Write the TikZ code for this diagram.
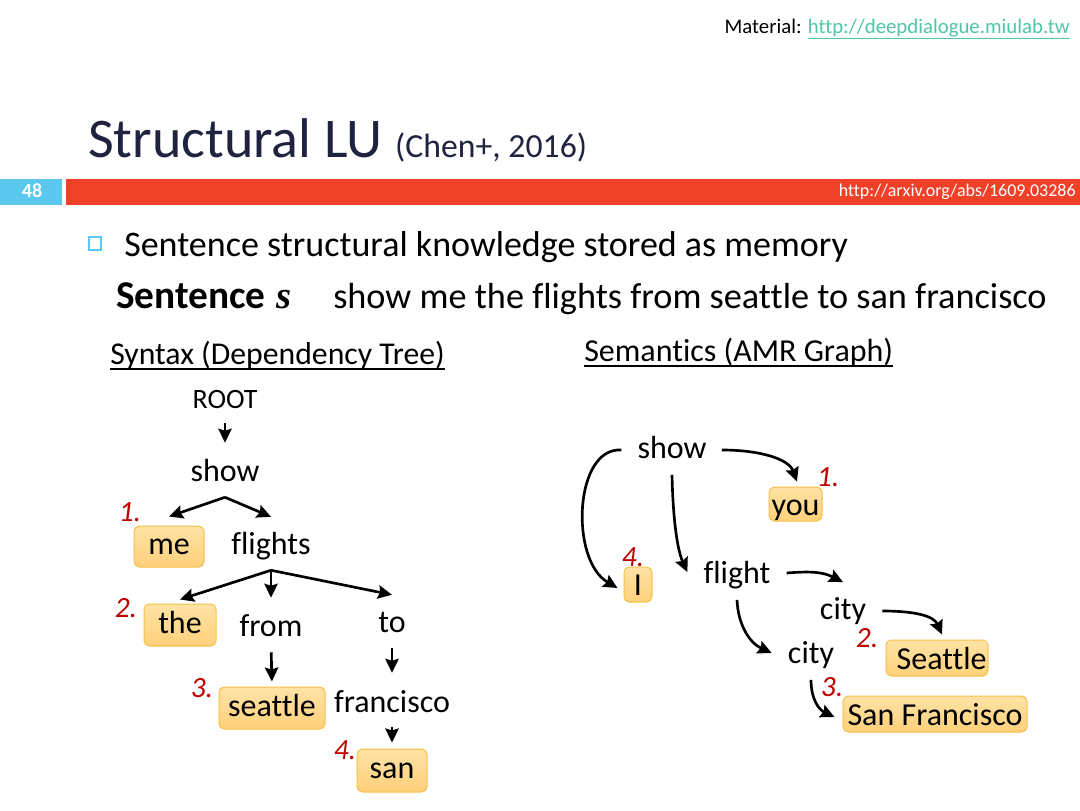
\documentclass[tikz,border=0pt]{standalone}
\usepackage{fontspec}
\setmainfont{Carlito}[Ligatures=NoCommon]
\newfontfamily\serifit{Liberation Serif}
\usetikzlibrary{arrows.meta}
\definecolor{navy}{HTML}{1F2340}
\definecolor{linkc}{HTML}{4FC6A8}
\definecolor{barblue}{HTML}{5BC8F0}
\definecolor{barred}{HTML}{F04128}
\definecolor{numred}{HTML}{C00000}
\definecolor{boxdraw}{HTML}{F5C047}
\definecolor{boxtop}{HTML}{FFE3A6}
\definecolor{boxbot}{HTML}{FFD07A}
\tikzset{
  word/.style={font=\fontsize{24}{28}\selectfont, inner sep=0pt, text height=17pt, text depth=5pt, anchor=base},
  wbox/.style={draw=boxdraw, top color=boxtop, bottom color=boxbot, rounded corners=4pt, line width=0.75pt, inner sep=0pt, font=\fontsize{24}{28}\selectfont, text height=17pt, text depth=5pt},
  abox/.style={wbox, text depth=0pt},
  num/.style={font=\itshape\fontsize{22}{26}\selectfont, text=numred, inner sep=0pt},
  arr/.style={line width=2pt, -{Stealth[length=10.5pt,width=10pt,inset=1.5pt]}},
  uline/.style={line width=1.5pt},
}
\begin{document}
\begin{tikzpicture}[x=0.75pt,y=-0.75pt]
\useasboundingbox (0,0) rectangle (1080,810);
\fill[white] (0,0) rectangle (1080,810);
% header
\node[anchor=base east, inner sep=0pt, font=\fontsize{15.6}{18}\selectfont] (material) at (1070,33) {Material: \textcolor{linkc}{\underline{http://deepdialogue.miulab.tw}}};
\node[anchor=base west, inner sep=0pt, text=navy, font=\fontsize{42}{48}\selectfont] (title) at (88,157) {Structural LU {\fontsize{25.3}{30}\selectfont (Chen+, 2016)}};
\fill[barblue] (0,179) rectangle (62,205);
\node[font=\bfseries\fontsize{15}{18}\selectfont, text=white, inner sep=0pt] (pagenum) at (32,191) {48};
\fill[barred] (66,179) rectangle (1080,205);
\node[anchor=east, font=\fontsize{13.5}{16}\selectfont, text=white, inner sep=0pt] (arxiv) at (1076,192) {http://arxiv.org/abs/1609.03286};
% bullet
\draw[barblue, line width=1.3pt] (89,237) rectangle (101,250);
\node[anchor=base west, inner sep=0pt, font=\fontsize{27}{32}\selectfont] (bullet) at (124,256) {Sentence structural knowledge stored as memory};
\node[anchor=base west, inner sep=0pt, font=\bfseries\fontsize{29.5}{34}\selectfont] (sentlab) at (116,308) {Sentence};
\node[anchor=base west, inner sep=0pt, font=\serifit\bfseries\itshape\fontsize{29}{34}\selectfont] (svar) at (276,308) {s};
\node[anchor=base west, inner sep=0pt, font=\fontsize{27.2}{32}\selectfont] (sent) at (333,308) {show me the flights from seattle to san francisco};
\node[anchor=base west, inner sep=0pt, font=\fontsize{23.8}{28}\selectfont] (syn) at (110,364) {Syntax (Dependency Tree)};
\node[anchor=base west, inner sep=0pt, font=\fontsize{24}{28}\selectfont] (sem) at (584,361) {Semantics (AMR Graph)};
\draw[uline] ([yshift=-3.5pt]syn.base west) -- ([yshift=-3.5pt]syn.base east);
\draw[uline] ([yshift=-3.5pt]sem.base west) -- ([yshift=-3.5pt]sem.base east);
% dependency tree
\node[word, font=\fontsize{21}{25}\selectfont, text height=14pt, text depth=4pt] (root) at (225,408) {ROOT};
\node[word] (show) at (225,481) {show};
\node[wbox, minimum width=52.5pt, minimum height=30.75pt] (me) at (169,546.5) {me};
\node[word] (flights) at (271,554) {flights};
\node[wbox, minimum width=54pt, minimum height=31.5pt] (the) at (180,625) {the};
\node[word] (from) at (271,636) {from};
\node[word] (to) at (392,632) {to};
\node[wbox, minimum width=79.5pt, minimum height=31.5pt] (seattle) at (272,708) {seattle};
\node[word] (francisco) at (392,712) {francisco};
\node[wbox, minimum width=52.5pt, minimum height=32.25pt] (san) at (392,770.5) {san};
\node[num] (n1) at (130,512) {1.};
\node[num] (n2) at (126,608) {2.};
\node[num] (n3) at (202,688) {3.};
\node[num] (n4) at (345,750) {4.};
\draw[arr, shorten <=7pt, shorten >=11.5pt] (root.south) -- (show.north);
\coordinate (j1) at ([yshift=-7pt]show.south);
\draw[arr] (j1) -- ([yshift=6.75pt]me.north);
\draw[arr] (j1) -- ([yshift=10.7pt]flights.north);
\coordinate (j2) at ([yshift=-7pt]flights.south);
\draw[arr] (j2) -- ([yshift=3pt]the.north);
\draw[arr] (j2) -- ([yshift=11.5pt]from.north);
\draw[arr] (j2) -- ([yshift=10.7pt]to.north);
\draw[arr, shorten <=7pt, shorten >=3.75pt] (from.south) -- (seattle.north);
\draw[arr, shorten <=7pt, shorten >=12.2pt] (to.south) -- (francisco.north);
\draw[arr, shorten <=6.2pt, shorten >=4.5pt] (francisco.south) -- (san.north);
% AMR graph
\node[word] (ashow) at (672,458) {show};
\node[abox, minimum width=39.75pt, minimum height=25.5pt] (you) at (795.5,504) {you};
\node[abox, minimum width=21pt, minimum height=26.25pt] (I) at (638,584.5) {I};
\node[word] (flight) at (737,583) {flight};
\node[word] (city1) at (843,619) {city};
\node[word] (city2) at (811,663) {city};
\node[abox, minimum width=76.5pt, minimum height=27pt] (seat) at (937,658) {\hspace*{7pt}Seattle};
\node[abox, minimum width=138pt, minimum height=27pt] (sf) at (935,714) {San Francisco};
\node[num] (m1) at (828,477) {1.};
\node[num] (m4) at (633,557) {4.};
\node[num] (m2) at (867,638) {2.};
\node[num] (m3) at (832,687) {3.};
\draw[arr] ([xshift=-12pt]ashow.west) .. controls +(-47,-3) and +(-48,-28) .. ([xshift=-4.5pt,yshift=-2.6pt]I.west);
\draw[arr] ([xshift=11.25pt]ashow.east) .. controls +(40,0) and +(-8,-22) .. ([xshift=1.1pt,yshift=3.75pt]you.north);
\draw[arr] ([yshift=-7.5pt]ashow.south) .. controls +(1,45) and +(-10,-22) .. ([xshift=-12pt,yshift=2.25pt]flight.west);
\draw[arr] ([xshift=12pt,yshift=1.5pt]flight.east) .. controls +(25,-2) and +(-20,-10) .. ([yshift=10.5pt]city1.north);
\draw[arr] ([yshift=-7.5pt]flight.south) .. controls +(1,25) and +(-22,-10) .. ([xshift=-12pt,yshift=1.5pt]city2.west);
\draw[arr] ([xshift=12pt]city1.east) .. controls +(35,0) and +(-8,-18) .. ([xshift=3.75pt,yshift=3.75pt]seat.north);
\draw[arr] ([yshift=-7.5pt]city2.south) .. controls +(0,20) and +(-15,-7) .. ([xshift=-6pt,yshift=-2.25pt]sf.west);
\end{tikzpicture}
\end{document}
